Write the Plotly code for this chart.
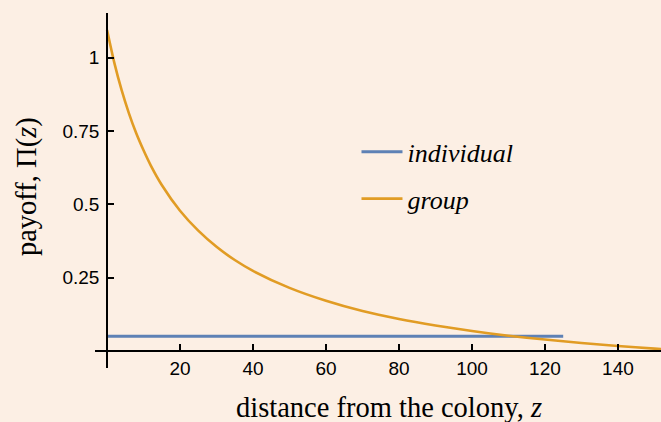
import plotly.graph_objects as go

# distance from the colony, z
z_group = [0, 2, 4, 6, 8, 10, 12, 15, 20, 25, 30, 35, 40, 50, 60, 70, 80, 90,
           100, 110, 120, 130, 140, 150, 152]
payoff_group = [1.094, 0.982, 0.889, 0.810, 0.742, 0.684, 0.632, 0.566, 0.478, 0.410,
                0.355, 0.310, 0.273, 0.215, 0.171, 0.136, 0.109, 0.087,
                0.068, 0.052, 0.039, 0.027, 0.017, 0.008, 0.006]

z_individual = [0, 125]
payoff_individual = [0.05, 0.05]

x_ticks = [20, 40, 60, 80, 100, 120, 140]
y_ticks = [0.25, 0.5, 0.75, 1]
y_ticktext = ["0.25", "0.5", "0.75", "1"]

x_range = [-3.3, 151.8]
y_range = [-0.058, 1.152]

bg = "rgb(252,239,228)"
blue = "#5E81B5"
orange = "#E19C24"

fig = go.Figure()

fig.add_trace(go.Scatter(
    x=z_individual, y=payoff_individual, mode="lines", name="<i>individual</i>",
    legendgroup="a", line=dict(color=blue, width=3)))

fig.add_trace(go.Scatter(
    x=z_group, y=payoff_group, mode="lines", name="<i>group</i>",
    legendgroup="b", line=dict(color=orange, width=2.6, shape="spline", smoothing=0.6)))

# put the axes through the origin
x0_frac = (0 - x_range[0]) / (x_range[1] - x_range[0])
y0_frac = (0 - y_range[0]) / (y_range[1] - y_range[0])

axis_font = dict(family="Liberation Sans, Arial, sans-serif", size=19, color="black")
serif = "Liberation Serif, Times New Roman, serif"

fig.update_layout(
    width=661, height=422,
    margin=dict(l=95, r=0, t=13, b=54),
    paper_bgcolor=bg, plot_bgcolor=bg,
    showlegend=True,
    legend=dict(x=0.462, y=0.675, xanchor="left", yanchor="top",
                bgcolor="rgba(0,0,0,0)", tracegroupgap=10, itemwidth=41,
                font=dict(family=serif, size=26, color="black")),
    xaxis=dict(range=x_range, anchor="free", position=y0_frac,
               showgrid=False, zeroline=False, showline=True, linecolor="black", linewidth=1.6,
               ticks="inside", ticklen=6, tickwidth=1.5, tickcolor="black",
               tickvals=x_ticks, tickfont=axis_font),
    yaxis=dict(range=y_range, anchor="free", position=x0_frac,
               showgrid=False, zeroline=False, showline=True, linecolor="black", linewidth=1.6,
               ticks="inside", ticklen=6, tickwidth=1.5, tickcolor="black",
               ticklabelstandoff=3,
               tickvals=y_ticks, ticktext=y_ticktext, tickfont=axis_font),
    annotations=[
        dict(text="distance from the colony, <i>z</i>", xref="paper", yref="paper",
             x=0.52, y=-0.11, xanchor="center", yanchor="middle", showarrow=False,
             font=dict(family=serif, size=28.5, color="black")),
        dict(text="payoff, \u03a0(<i>z</i>)", xref="paper", yref="paper",
             x=-0.12, y=0.51, xanchor="center", yanchor="middle", textangle=-90, showarrow=False,
             font=dict(family=serif, size=28.5, color="black")),
    ],
)

fig.write_html("out.html", config={"displayModeBar": False},
               post_script="document.body.style.margin='0';")
